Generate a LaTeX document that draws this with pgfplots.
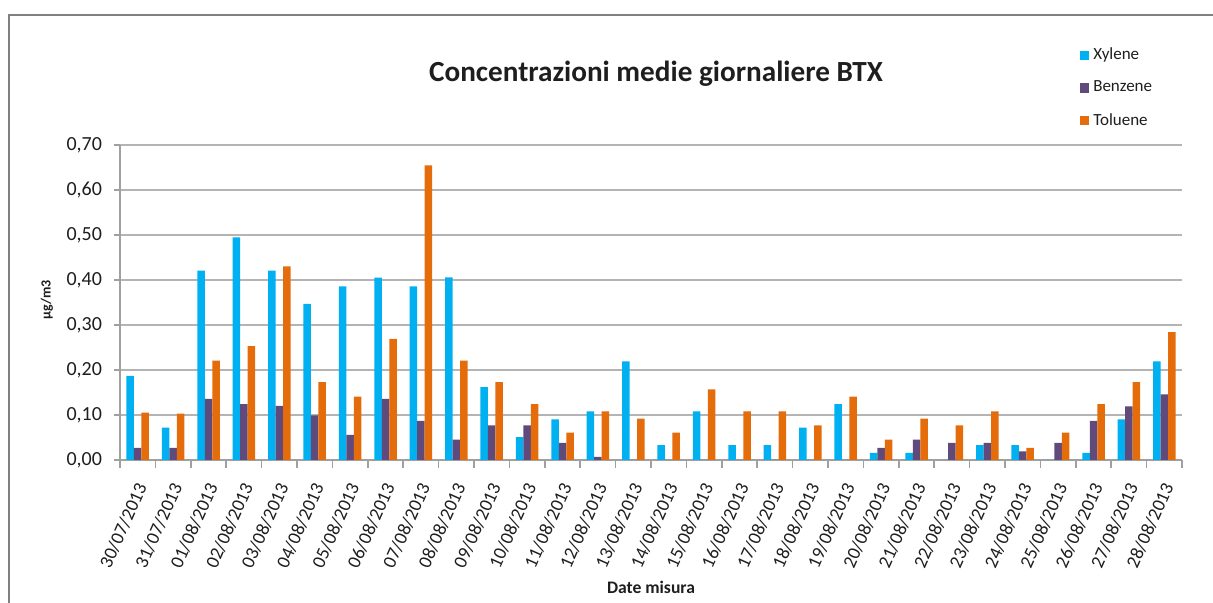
\documentclass[border=0pt]{standalone}
\usepackage{fontspec}
\setmainfont{Carlito}
\usepackage{pgfplots}
\pgfplotsset{compat=1.18}
\definecolor{xyl}{RGB}{0,176,240}
\definecolor{ben}{RGB}{96,74,123}
\definecolor{tol}{RGB}{228,108,10}
\definecolor{gridc}{RGB}{180,180,180}
\definecolor{axc}{RGB}{160,160,160}
\definecolor{txt}{RGB}{30,30,30}
\pgfplotsset{sqleg/.style={legend image code/.code={\fill[##1] (0pt,-2.3pt) rectangle (4.6pt,2.3pt);}}}
\begin{document}
\begin{tikzpicture}
\path[use as bounding box] (0,0) rectangle (606.5pt,301.5pt);
\draw[black!50, line width=1.2pt] (4.5pt,0) -- (4.5pt,294pt) -- (606.5pt,294pt);
\begin{axis}[
  at={(60pt,71.5pt)}, anchor=south west,
  scale only axis, width=531pt, height=157.5pt,
  ybar=0pt, bar width=3.75pt,
  xmin=-0.5, xmax=29.5, ymin=0, ymax=0.7,
  axis x line*=bottom, axis y line*=left,
  axis line style={axc, line width=0.8pt},
  xtick={0,...,29},
  xticklabels={30/07/2013,31/07/2013,01/08/2013,02/08/2013,03/08/2013,04/08/2013,05/08/2013,06/08/2013,07/08/2013,08/08/2013,09/08/2013,10/08/2013,11/08/2013,12/08/2013,13/08/2013,14/08/2013,15/08/2013,16/08/2013,17/08/2013,18/08/2013,19/08/2013,20/08/2013,21/08/2013,22/08/2013,23/08/2013,24/08/2013,25/08/2013,26/08/2013,27/08/2013,28/08/2013},
  major x tick style={draw=none},
  minor xtick={-0.5,0.5,...,29.5},
  minor x tick style={axc, line width=0.8pt},
  minor tick length=4pt,
  ytick={0,0.1,0.2,0.3,0.4,0.5,0.6,0.7},
  major y tick style={axc, line width=0.8pt},
  major tick length=3pt,
  tick align=outside,
  ymajorgrids, major grid style={gridc, line width=0.8pt},
  /pgf/number format/.cd, fixed, fixed zerofill, precision=2, use comma, assume math mode=true,
  /pgfplots/.cd,
  yticklabel style={font=\fontsize{10}{10}\selectfont, text=txt, xshift=-2.5pt},
  xticklabel style={xshift=2.5pt, yshift=-8pt, font=\fontsize{9.4}{9.4}\selectfont, text=txt, rotate=66, anchor=east, inner sep=1pt},
  legend style={at={(0.898,1.335)}, anchor=north west, draw=none, fill=none,
    font=\fontsize{8.5}{8.5}\selectfont, row sep=5.2pt, text=txt,
    /tikz/every even column/.append style={column sep=0pt}},
  legend cell align=left,
  clip=false,
]
\addplot[fill=xyl, draw=none, sqleg] coordinates {
(0,0.187) (1,0.072) (2,0.421) (3,0.495) (4,0.421) (5,0.347) (6,0.386) (7,0.405) (8,0.386) (9,0.406)
(10,0.162) (11,0.051) (12,0.090) (13,0.108) (14,0.219) (15,0.033) (16,0.108) (17,0.033) (18,0.033) (19,0.072)
(20,0.124) (21,0.016) (22,0.016) (23,0) (24,0.033) (25,0.033) (26,0) (27,0.016) (28,0.090) (29,0.219)};
\addplot[fill=ben, draw=none, sqleg] coordinates {
(0,0.027) (1,0.027) (2,0.136) (3,0.124) (4,0.120) (5,0.099) (6,0.056) (7,0.136) (8,0.087) (9,0.045)
(10,0.077) (11,0.077) (12,0.038) (13,0.007) (14,0) (15,0) (16,0) (17,0) (18,0) (19,0)
(20,0) (21,0.027) (22,0.045) (23,0.038) (24,0.038) (25,0.019) (26,0.038) (27,0.087) (28,0.119) (29,0.146)};
\addplot[fill=tol, draw=none, sqleg] coordinates {
(0,0.105) (1,0.103) (2,0.221) (3,0.253) (4,0.430) (5,0.173) (6,0.141) (7,0.269) (8,0.655) (9,0.221)
(10,0.173) (11,0.124) (12,0.061) (13,0.108) (14,0.092) (15,0.061) (16,0.157) (17,0.108) (18,0.108) (19,0.077)
(20,0.141) (21,0.045) (22,0.092) (23,0.077) (24,0.108) (25,0.027) (26,0.061) (27,0.124) (28,0.173) (29,0.284)};
\legend{Xylene,Benzene,Toluene}
\end{axis}
\node[font=\bfseries\fontsize{14.6}{14.6}\selectfont, text=txt] at (328pt,264.5pt) {Concentrazioni medie giornaliere BTX};
\node[font=\bfseries\fontsize{7}{7}\selectfont, text=txt, rotate=90] at (23.5pt,151.5pt) {µg/m3};
\node[font=\bfseries\fontsize{8.8}{8.8}\selectfont, text=txt] at (325.5pt,8pt) {Date misura};
\end{tikzpicture}
\end{document}
